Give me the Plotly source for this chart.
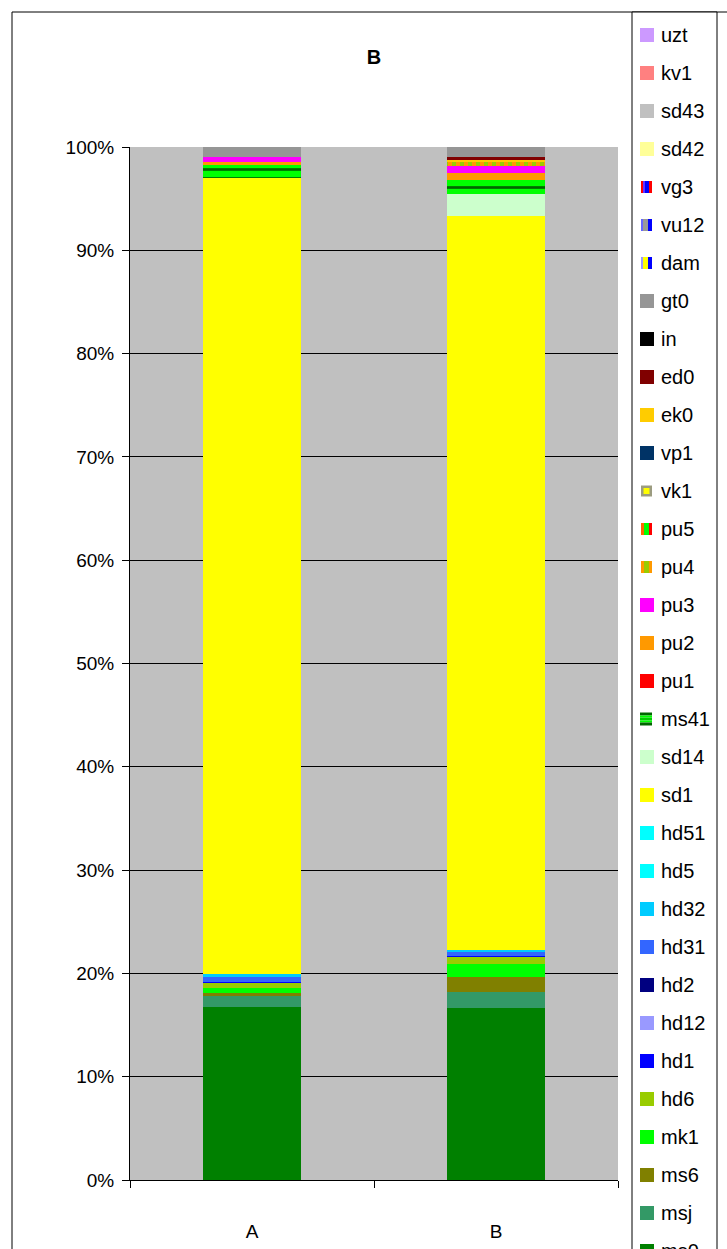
import plotly.graph_objects as go

# ---- data -------------------------------------------------------------
categories = ["A", "B"]

# stacking order, bottom to top
series = ["ms0", "msj", "ms6", "mk1", "hd6", "hd1", "hd12", "hd2", "hd31", "hd32",
          "hd5", "hd51", "sd1", "sd14", "ms41", "pu1", "pu2", "pu3", "pu4", "pu5",
          "vk1", "vp1", "ek0", "ed0", "in", "gt0", "dam", "vu12", "vg3", "sd42",
          "sd43", "kv1", "uzt"]

share_A = [16.75, 1.09, 0.26, 0.51, 0.48, 0.10, 0, 0, 0.45, 0.36,
           0, 0, 77.10, 0, 1.23, 0, 0.32, 0.48, 0, 0,
           0, 0, 0, 0, 0, 0.93, 0, 0, 0, 0,
           0, 0, 0]

share_B = [16.65, 1.58, 1.42, 1.29, 0.68, 0.10, 0, 0, 0.45, 0.16,
           0, 0, 71.08, 2.10, 1.36, 0, 0.74, 0.65, 0.39, 0,
           0, 0, 0.19, 0.32, 0, 0.94, 0, 0, 0, 0,
           0, 0, 0]

y_tick_values = [0, 10, 20, 30, 40, 50, 60, 70, 80, 90, 100]
y_tick_labels = ["0%", "10%", "20%", "30%", "40%", "50%", "60%", "70%", "80%", "90%", "100%"]

# ---- styling ----------------------------------------------------------
colors = {
    "ms0": "#008000", "msj": "#339966", "ms6": "#808000", "mk1": "#00FF00",
    "hd6": "#99CC00", "hd1": "#0000FF", "hd12": "#9999FF", "hd2": "#000080",
    "hd31": "#3366FF", "hd32": "#00CCFF", "hd5": "#00FFFF", "hd51": "#00FFFF",
    "sd1": "#FFFF00", "sd14": "#CCFFCC", "ms41": "#00FF00", "pu1": "#FF0000",
    "pu2": "#FF9900", "pu3": "#FF00FF", "pu4": "#FF9900", "pu5": "#FF6600",
    "vk1": "#FFFF00", "vp1": "#003366", "ek0": "#FFCC00", "ed0": "#800000",
    "in": "#000000", "gt0": "#969696", "dam": "#FFFF00", "vu12": "#999999",
    "vg3": "#0000FF", "sd42": "#FFFF99", "sd43": "#C0C0C0", "kv1": "#FF8080",
    "uzt": "#CC99FF",
}
patterns = {
    "ms41": dict(shape="-", fgcolor="#006600", bgcolor="#00FF00", size=9, solidity=0.3, fillmode="replace"),
    "pu4": dict(shape="|", fgcolor="#99CC00", bgcolor="#FF9900", size=8, solidity=0.5, fillmode="replace"),
    "pu5": dict(shape="|", fgcolor="#00FF00", bgcolor="#FF6600", size=8, solidity=0.5, fillmode="replace"),
}

# legend swatches drawn as stripes: (orientation, [(color, thickness), ...])
swatch_stripes = {
    "vg3": ("v", [("#FF0000", 2), ("#6633FF", 2), ("#0000FF", 4), ("#FF0000", 3)]),
    "vu12": ("v", [("#6666FF", 2), ("#999999", 5), ("#0000FF", 4)]),
    "dam": ("v", [("#9999FF", 2), ("#FFFF00", 5), ("#0000FF", 4)]),
    "pu5": ("v", [("#FF6600", 3), ("#00FF00", 5), ("#FF0000", 3)]),
    "pu4": ("v", [("#FF9900", 3), ("#99CC00", 5), ("#FF9900", 3)]),
    "ms41": ("h", [("#006600", 3), ("#00FF00", 2), ("#00CC00", 3), ("#00FF00", 2), ("#006600", 3)]),
}

W, H = 727, 1249
ML, MR, MT, MB = 130, 109, 147, 69
PW, PH = W - ML - MR, H - MT - MB
FONT = "Liberation Sans, Arial, sans-serif"


def fx(px):
    return (px - ML) / PW


def fy(py):
    return (H - MB - py) / PH


fig = go.Figure()
for i, name in enumerate(series):
    marker = dict(color=colors[name], line=dict(width=0))
    if name in patterns:
        marker["pattern"] = patterns[name]
    fig.add_trace(go.Bar(
        x=categories, y=[share_A[i], share_B[i]], name=name,
        marker=marker, width=0.4, showlegend=False,
        hovertemplate=name + ": %{y:.2f}%<extra></extra>",
    ))

shapes = []
annotations = []

# outer chart frame
shapes.append(dict(type="rect", xref="paper", yref="paper",
                   x0=fx(12), x1=fx(760), y0=fy(1300), y1=fy(12),
                   line=dict(color="black", width=1), fillcolor="rgba(0,0,0,0)", layer="above"))
# legend frame
shapes.append(dict(type="rect", xref="paper", yref="paper",
                   x0=fx(632), x1=fx(717), y0=fy(1300), y1=fy(12),
                   line=dict(color="black", width=1), fillcolor="white", layer="above"))

# legend entries, top entry is the top of the stack
legend_order = series[::-1]
for k, name in enumerate(legend_order):
    cy = 35 + 38 * k
    if name in swatch_stripes:
        orient, stripes = swatch_stripes[name]
        total = sum(t for _, t in stripes)
        if orient == "v":
            x = 641
            for c, t in stripes:
                shapes.append(dict(type="rect", xref="paper", yref="paper",
                                   x0=fx(x), x1=fx(x + t), y0=fy(cy + 6), y1=fy(cy - 6),
                                   line=dict(width=0), fillcolor=c, layer="above"))
                x += t
        else:
            y = cy - total / 2
            for c, t in stripes:
                shapes.append(dict(type="rect", xref="paper", yref="paper",
                                   x0=fx(640), x1=fx(652), y0=fy(y + t), y1=fy(y),
                                   line=dict(width=0), fillcolor=c, layer="above"))
                y += t
    elif name == "vk1":
        shapes.append(dict(type="rect", xref="paper", yref="paper",
                           x0=fx(641), x1=fx(652), y0=fy(cy + 5.5), y1=fy(cy - 5.5),
                           line=dict(width=0), fillcolor="#9C9C80", layer="above"))
        shapes.append(dict(type="rect", xref="paper", yref="paper",
                           x0=fx(643.5), x1=fx(649.5), y0=fy(cy + 3), y1=fy(cy - 3),
                           line=dict(width=0), fillcolor="#FFFF00", layer="above"))
    else:
        shapes.append(dict(type="rect", xref="paper", yref="paper",
                           x0=fx(640), x1=fx(654), y0=fy(cy + 7), y1=fy(cy - 7),
                           line=dict(width=0), fillcolor=colors[name], layer="above"))
    annotations.append(dict(xref="paper", yref="paper", x=fx(659), y=fy(cy),
                            xanchor="left", yanchor="middle", showarrow=False,
                            text=name, font=dict(family=FONT, size=20, color="black")))

fig.update_layout(
    width=W, height=H,
    margin=dict(l=ML, r=MR, t=MT, b=MB, pad=0, autoexpand=False),
    paper_bgcolor="white", plot_bgcolor="#C0C0C0",
    barmode="stack", barnorm="percent", bargap=0.6,
    showlegend=False,
    title=dict(text="<b>B</b>", x=fx(374), xref="paper", xanchor="center",
               y=1 - 57 / H, yanchor="middle", automargin=False,
               font=dict(family=FONT, size=20, color="black")),
    font=dict(family=FONT, size=19, color="black"),
    shapes=shapes, annotations=annotations,
)
fig.update_yaxes(range=[0, 100], tickvals=y_tick_values, ticktext=y_tick_labels,
                 showgrid=True, gridcolor="black", gridwidth=1, automargin=False,
                 zeroline=False, showline=True, linecolor="black", linewidth=1,
                 ticks="outside", ticklen=7, tickcolor="black",
                 ticklabelstandoff=4, tickfont=dict(family=FONT, size=19))
fig.update_xaxes(showgrid=False, showline=True, linecolor="black", linewidth=1,
                 automargin=False,
                 ticks="outside", ticklen=7, tickcolor="black", tickson="boundaries",
                 ticklabelstandoff=34, tickfont=dict(family=FONT, size=19))

fig.write_html("out.html")
